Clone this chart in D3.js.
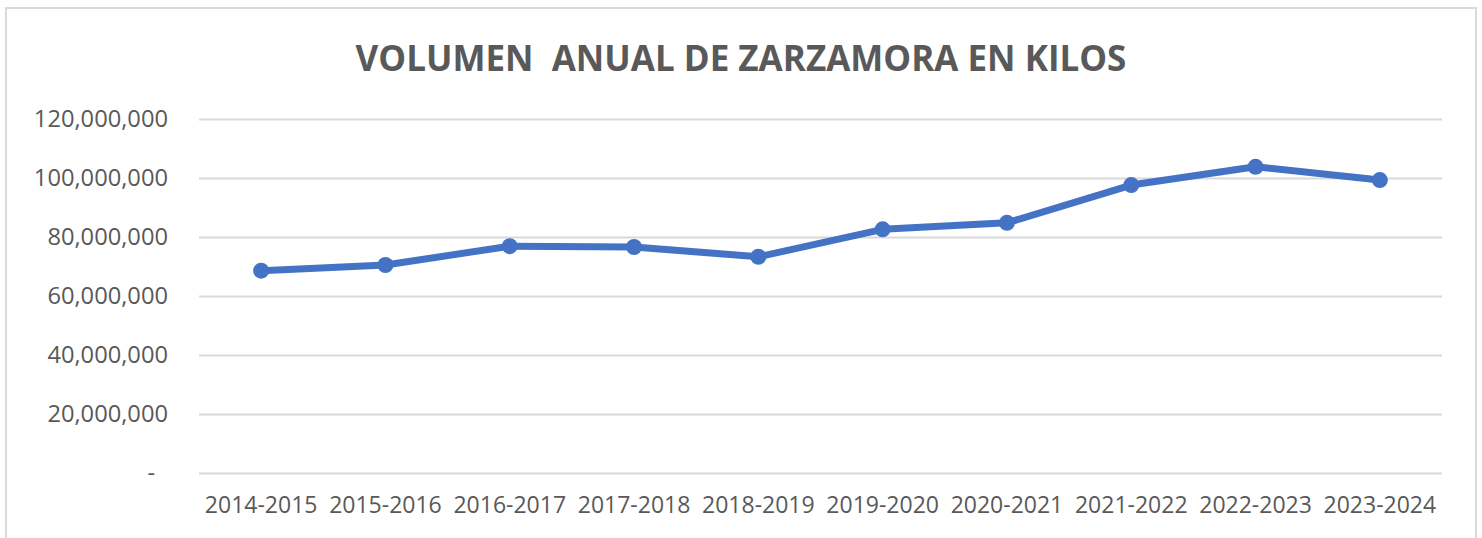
<!DOCTYPE html>
<html>
<head>
  <meta charset="utf-8">
  <title>Volumen anual de zarzamora</title>
  <script src="https://cdn.jsdelivr.net/npm/d3@7"></script>
  <style>
    body { margin: 0; background: #fff; }
    svg text { font-family: "Open Sans", "Liberation Sans", sans-serif; fill: #595959; }
  </style>
</head>
<body>
  <svg width="1482" height="538" id="mainsvg"></svg>
  <script>
    // data
    const seasons = ['2014-2015', '2015-2016', '2016-2017', '2017-2018', '2018-2019',
      '2019-2020', '2020-2021', '2021-2022', '2022-2023', '2023-2024'];
    const kilos = [68600000, 70500000, 76900000, 76600000, 73300000,
      82600000, 84800000, 97600000, 103800000, 99300000];
    const yTicks = [0, 20000000, 40000000, 60000000, 80000000, 100000000, 120000000];
    const title = 'VOLUMEN  ANUAL DE ZARZAMORA EN KILOS';

    const svg = d3.select('#mainsvg');
    const width = +svg.attr('width');
    const height = +svg.attr('height');
    const margin = { top: 119, right: 40, bottom: 65, left: 199 };
    const innerWidth = 1442 - margin.left;
    const innerHeight = 473 - margin.top;

    // chart frame (bottom edge falls outside the picture, as in the original)
    svg.append('rect')
      .attr('x', 6).attr('y', 8)
      .attr('width', 1470).attr('height', 560)
      .attr('fill', 'none')
      .attr('stroke', '#d9d9d9')
      .attr('stroke-width', 2);

    svg.append('text')
      .attr('x', width / 2)
      .attr('y', 71)
      .attr('text-anchor', 'middle')
      .style('white-space', 'pre')
      .attr('font-size', 35)
      .attr('font-weight', 700)
      .text(title);

    const xScale = d3.scaleBand().domain(seasons).range([0, innerWidth]);
    const yScale = d3.scaleLinear().domain([0, 120000000]).range([innerHeight, 0]);

    const g = svg.append('g')
      .attr('transform', `translate(${margin.left}, ${margin.top})`);

    // gridlines + y labels
    const yAxis = d3.axisLeft(yScale)
      .tickValues(yTicks)
      .tickSize(-innerWidth)
      .tickPadding(31)
      .tickFormat(d => d === 0 ? '-' : d3.format(',')(d));
    const yAxisGroup = g.append('g').call(yAxis);
    yAxisGroup.select('.domain').remove();
    yAxisGroup.selectAll('line').attr('stroke', '#d9d9d9').attr('stroke-width', 2);
    yAxisGroup.selectAll('text')
      .attr('font-size', 23.7)
      .attr('fill', '#595959')
      .attr('font-family', null)
      .attr('dx', d => d === 0 ? -13 : 0);

    const xAxis = d3.axisBottom(xScale).tickSize(0).tickPadding(24);
    const xAxisGroup = g.append('g')
      .attr('transform', `translate(0, ${innerHeight})`)
      .call(xAxis);
    xAxisGroup.select('.domain').remove();
    xAxisGroup.selectAll('text')
      .attr('font-size', 23)
      .attr('fill', '#595959')
      .attr('font-family', null);

    const cx = d => xScale(d) + xScale.bandwidth() / 2;

    const line = d3.line()
      .x((d, i) => cx(seasons[i]))
      .y(d => yScale(d));

    g.append('path')
      .datum(kilos)
      .attr('d', line)
      .attr('fill', 'none')
      .attr('stroke', '#4472c4')
      .attr('stroke-width', 7)
      .attr('stroke-linejoin', 'round');

    g.selectAll('circle')
      .data(kilos)
      .enter()
      .append('circle')
      .attr('cx', (d, i) => cx(seasons[i]))
      .attr('cy', d => yScale(d))
      .attr('r', 8)
      .attr('fill', '#4472c4');
  </script>
</body>
</html>
